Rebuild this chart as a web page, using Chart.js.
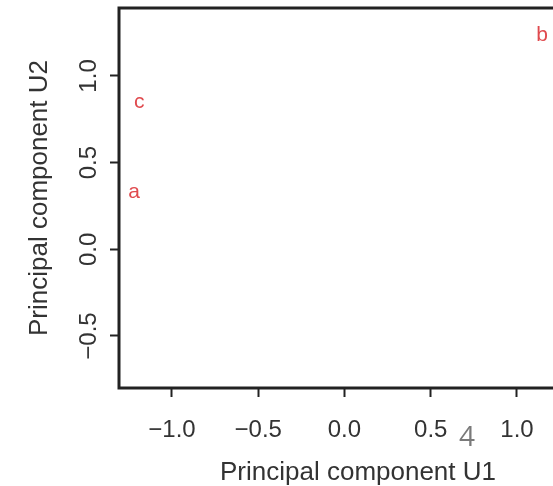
<!DOCTYPE html>
<html>
<head>
<meta charset="utf-8">
<script src="https://cdn.jsdelivr.net/npm/chart.js@4"></script>
<style>
    html, body {
        margin: 0;
        padding: 0;
        background: #fff;
        overflow: hidden;
    }
    #wrap {
        position: relative;
        width: 553px;
        height: 486px;
        overflow: hidden;
    }
    #pageNo {
        position: absolute;
        left: 459px;
        top: 418px;
        font-family: "Open Sans", sans-serif;
        font-size: 28px;
        line-height: 34px;
        color: #7a7a7a;
    }
</style>
</head>
<body>
<div id="wrap">
    <canvas id="pcaChart" width="620" height="486"></canvas>
    <div id="pageNo">4</div>
</div>
<script>
// sample labels and their coordinates on the two principal components
const sampleLabels = ['a', 'b', 'c'];
const u1Values = [-1.22, 1.145, -1.19];
const u2Values = [0.33, 1.237, 0.85];

// axis ranges and tick spacing
const xRange = [-1.307, 1.464];
const yRange = [-0.80, 1.392];
const tickStep = 0.5;

const axisColor = '#222';
const textColor = '#333';
const labelColor = '#e04a4e';

function formatTick(value) {
    return value.toFixed(1).replace('-', '\u2212');
}

// R-style box, rotated y tick labels and text markers
const pcaDecorations = {
    id: 'pcaDecorations',
    afterDraw(chart) {
        const ctx = chart.ctx;
        const area = chart.chartArea;
        const xScale = chart.scales.x;
        const yScale = chart.scales.y;

        ctx.save();
        ctx.strokeStyle = axisColor;
        ctx.lineWidth = 3;
        ctx.strokeRect(area.left, area.top, area.right - area.left, area.bottom - area.top);

        // y tick labels read bottom-to-top
        ctx.fillStyle = textColor;
        ctx.font = '24px "Liberation Sans", Arial, sans-serif';
        ctx.textAlign = 'center';
        ctx.textBaseline = 'middle';
        yScale.ticks.forEach(tick => {
            const y = yScale.getPixelForValue(tick.value);
            ctx.save();
            ctx.translate(89, y);
            ctx.rotate(-Math.PI / 2);
            ctx.fillText(formatTick(tick.value), 0, 0);
            ctx.restore();
        });

        // sample letters instead of point symbols
        ctx.fillStyle = labelColor;
        ctx.font = '21px "Liberation Sans", Arial, sans-serif';
        sampleLabels.forEach((label, i) => {
            const px = xScale.getPixelForValue(u1Values[i]);
            const py = yScale.getPixelForValue(u2Values[i]);
            ctx.fillText(label, px, py);
        });
        ctx.restore();
    }
};

function createPcaChart() {
    const ctx = document.getElementById('pcaChart').getContext('2d');

    new Chart(ctx, {
        type: 'scatter',
        data: {
            datasets: [{
                label: 'Samples',
                data: sampleLabels.map((label, i) => ({ x: u1Values[i], y: u2Values[i] })),
                pointRadius: 0,
                pointHoverRadius: 0
            }]
        },
        options: {
            responsive: false,
            animation: false,
            events: [],
            layout: {
                padding: { top: 8, right: 23, left: 0, bottom: 0 }
            },
            plugins: {
                legend: { display: false },
                tooltip: { enabled: false }
            },
            scales: {
                x: {
                    type: 'linear',
                    min: xRange[0],
                    max: xRange[1],
                    afterFit: scale => { scale.height = 98; },
                    border: { display: false },
                    grid: {
                        drawOnChartArea: false,
                        drawTicks: true,
                        tickLength: 9,
                        tickWidth: 2,
                        tickColor: axisColor
                    },
                    ticks: {
                        stepSize: tickStep,
                        includeBounds: false,
                        autoSkip: false,
                        maxRotation: 0,
                        padding: 19,
                        color: textColor,
                        font: { family: '"Liberation Sans", Arial, sans-serif', size: 24 },
                        callback: value => formatTick(value)
                    },
                    title: {
                        display: true,
                        text: 'Principal component U1',
                        color: textColor,
                        padding: { top: 0, bottom: 0 },
                        font: { family: '"Liberation Sans", Arial, sans-serif', size: 26, lineHeight: 1 }
                    }
                },
                y: {
                    type: 'linear',
                    min: yRange[0],
                    max: yRange[1],
                    afterFit: scale => { scale.width = 119; },
                    border: { display: false },
                    grid: {
                        drawOnChartArea: false,
                        drawTicks: true,
                        tickLength: 9,
                        tickWidth: 2,
                        tickColor: axisColor
                    },
                    ticks: {
                        stepSize: tickStep,
                        includeBounds: false,
                        display: false
                    },
                    title: {
                        display: true,
                        text: 'Principal component U2',
                        color: textColor,
                        padding: { top: 27, bottom: 0 },
                        font: { family: '"Liberation Sans", Arial, sans-serif', size: 26, lineHeight: 1 }
                    }
                }
            }
        },
        plugins: [pcaDecorations]
    });
}

document.addEventListener('DOMContentLoaded', createPcaChart);
</script>
</body>
</html>
